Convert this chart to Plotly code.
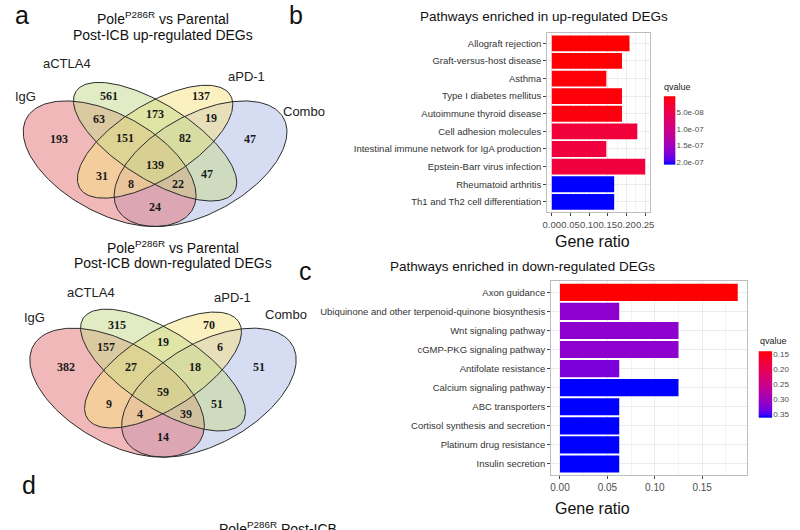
import numpy as np
import plotly.graph_objects as go

# ---------------- data ----------------
set_names = ["IgG", "aCTLA4", "aPD-1", "Combo"]
region_keys = ["IgG", "aCTLA4", "aPD-1", "Combo",
               "IgG&aCTLA4", "aCTLA4&aPD-1", "aPD-1&Combo", "IgG&aPD-1",
               "aCTLA4&Combo", "IgG&Combo",
               "IgG&aCTLA4&aPD-1", "aCTLA4&aPD-1&Combo", "IgG&aPD-1&Combo",
               "IgG&aCTLA4&Combo", "all"]
up_counts = [193, 561, 137, 47, 63, 173, 19, 31, 47, 24, 151, 82, 8, 22, 139]
down_counts = [382, 315, 70, 51, 157, 19, 6, 9, 51, 14, 27, 18, 4, 39, 59]

up_pathways = ["Allograft rejection", "Graft-versus-host disease", "Asthma",
               "Type I diabetes mellitus", "Autoimmune thyroid disease",
               "Cell adhesion molecules", "Intestinal immune network for IgA production",
               "Epstein-Barr virus infection", "Rheumatoid arthritis",
               "Th1 and Th2 cell differentiation"]
up_ratio = [0.208, 0.188, 0.146, 0.188, 0.188, 0.229, 0.146, 0.250, 0.167, 0.167]
up_q = [2.0e-9, 3.0e-9, 5.0e-9, 6.0e-9, 8.0e-9, 3.5e-8, 3.8e-8, 3.8e-8, 2.09e-7, 2.09e-7]
up_q_ticks = [5.0e-8, 1.0e-7, 1.5e-7, 2.0e-7]
up_q_ticklabels = ["5.0e-08", "1.0e-07", "1.5e-07", "2.0e-07"]
up_x_ticks = [0.00, 0.05, 0.10, 0.15, 0.20, 0.25]

down_pathways = ["Axon guidance", "Ubiquinone and other terpenoid-quinone biosynthesis",
                 "Wnt signaling pathway", "cGMP-PKG signaling pathway",
                 "Antifolate resistance", "Calcium signaling pathway",
                 "ABC transporters", "Cortisol synthesis and secretion",
                 "Platinum drug resistance", "Insulin secretion"]
down_ratio = [0.1875, 0.0625, 0.125, 0.125, 0.0625, 0.125, 0.0625, 0.0625, 0.0625, 0.0625]
down_q = [0.142, 0.318, 0.318, 0.318, 0.330, 0.363, 0.363, 0.363, 0.363, 0.363]
down_q_ticks = [0.15, 0.20, 0.25, 0.30, 0.35]
down_q_ticklabels = ["0.15", "0.20", "0.25", "0.30", "0.35"]
down_x_ticks = [0.00, 0.05, 0.10, 0.15]

# ---------------- helpers ----------------
W, H = 800, 530


def dom_x(a, b):
    return [a / W, b / W]


def dom_y(top, bottom):
    return [(H - bottom) / H, (H - top) / H]


def _lin(c):
    c = np.asarray(c, float) / 255.0
    return np.where(c <= 0.04045, c / 12.92, ((c + 0.055) / 1.055) ** 2.4)


def _srgb(c):
    c = np.clip(c, 0, 1)
    return np.where(c <= 0.0031308, 12.92 * c, 1.055 * c ** (1 / 2.4) - 0.055) * 255


M = np.array([[0.4124, 0.3576, 0.1805], [0.2126, 0.7152, 0.0722], [0.0193, 0.1192, 0.9505]])
Minv = np.linalg.inv(M)
WHITE = np.array([0.95047, 1.0, 1.08883])
D = 6 / 29


def to_lab(rgb):
    xyz = M @ _lin(rgb) / WHITE
    f = np.where(xyz > D ** 3, np.cbrt(xyz), xyz / (3 * D * D) + 4 / 29)
    return np.array([116 * f[1] - 16, 500 * (f[0] - f[1]), 200 * (f[1] - f[2])])


def from_lab(lab):
    fy = (lab[0] + 16) / 116
    f = np.array([fy + lab[1] / 500, fy, fy - lab[2] / 200])
    xyz = np.where(f > D, f ** 3, 3 * D * D * (f - 4 / 29)) * WHITE
    return _srgb(Minv @ xyz)


lab_lo, lab_hi = to_lab([255, 0, 0]), to_lab([0, 0, 255])
colorscale = []
for t in np.linspace(0, 1, 21):
    r, g, b = from_lab(lab_lo + (lab_hi - lab_lo) * t)
    colorscale.append([float(t), "rgb(%d,%d,%d)" % (round(r), round(g), round(b))])

SANS = "Liberation Sans, Arial, sans-serif"
SERIF = "Liberation Serif, Times New Roman, serif"

fig = go.Figure()

# ---------------- Venn diagrams (pixel overlay axis) ----------------
# ellipse geometry in VennDiagram unit space: cx, cy, a, b, rotation(deg)
ellipses = {
    "Combo": (0.65, 0.47, 0.35, 0.20, 45),
    "IgG": (0.35, 0.47, 0.35, 0.20, 135),
    "aPD-1": (0.50, 0.57, 0.33, 0.15, 45),
    "aCTLA4": (0.50, 0.57, 0.35, 0.15, 135),
}
draw_order = ["Combo", "IgG", "aPD-1", "aCTLA4"]
fills = {"IgG": "rgba(225,113,113,0.5)", "aCTLA4": "rgba(197,217,137,0.5)",
         "aPD-1": "rgba(247,225,129,0.5)", "Combo": "rgba(173,187,231,0.5)"}

venns = [
    dict(counts=up_counts, cx=152, sx=307, y0=267.3, sy=222,
         pos=[(55, 138), (105, 95), (198, 95), (248, 138), (95, 118), (152, 113),
              (209, 117), (98, 175), (205, 173), (152, 207), (122, 137), (182, 137),
              (128, 183), (175, 183), (152, 164)],
         labels=[(21, 95), (63, 62), (245, 75), (303, 110)],
         title=(160, 16, 33), sub="Post-ICB up-regulated DEGs"),
    dict(counts=down_counts, cx=160, sx=310, y0=500.8, sy=228,
         pos=[(62, 368), (113, 325), (207, 325), (257, 368), (102, 348), (160, 343),
              (218, 348), (105, 405), (215, 405), (160, 438), (128, 368), (192, 368),
              (137, 415), (183, 415), (160, 393)],
         labels=[(30, 318), (87, 293), (230, 298), (285, 315)],
         title=(170, 247, 263), sub="Post-ICB down-regulated DEGs"),
]

tt = np.linspace(0, 2 * np.pi, 241)
annotations = []
for v in venns:
    outlines = []
    for name in draw_order:
        cx, cy, a, b, rot = ellipses[name]
        r = np.deg2rad(rot)
        u = cx + a * np.cos(tt) * np.cos(r) - b * np.sin(tt) * np.sin(r)
        w = cy + a * np.cos(tt) * np.sin(r) + b * np.sin(tt) * np.cos(r)
        px = v["cx"] + (u - 0.5) * v["sx"]
        py = v["y0"] - w * v["sy"]
        fig.add_trace(go.Scatter(x=px, y=py, mode="lines", fill="toself",
                                 fillcolor=fills[name], line=dict(width=0),
                                 hoverinfo="skip", showlegend=False,
                                 xaxis="x", yaxis="y"))
        outlines.append((px, py))
    for px, py in outlines:
        fig.add_trace(go.Scatter(x=px, y=py, mode="lines",
                                 line=dict(color="#2b2b2b", width=1),
                                 hoverinfo="skip", showlegend=False,
                                 xaxis="x", yaxis="y"))
    for cnt, (x, y) in zip(v["counts"], v["pos"]):
        annotations.append(dict(x=x, y=y, text="<b>%d</b>" % cnt, showarrow=False,
                                font=dict(family=SERIF, size=12, color="#1a1a1a")))
    for nm, (x, y) in zip(set_names, v["labels"]):
        annotations.append(dict(x=x, y=y, text=nm, showarrow=False,
                                font=dict(family=SANS, size=13, color="#222")))
    tx, ty1, ty2 = v["title"]
    annotations.append(dict(x=tx, y=ty1, text="Pole<sup>P286R</sup> vs Parental",
                            showarrow=False, font=dict(family=SANS, size=14, color="#111")))
    annotations.append(dict(x=tx, y=ty2, text=v["sub"], showarrow=False,
                            font=dict(family=SANS, size=14, color="#111")))

# panel letters & misc text
for letter, (x, y) in zip(["a", "b", "c", "d"], [(17, 13), (295, 13), (304, 271), (24, 487)]):
    annotations.append(dict(x=x, y=y, text=letter, showarrow=False,
                            font=dict(family=SANS, size=25, color="#111")))
annotations.append(dict(x=546, y=15, text="Pathways enriched in up-regulated DEGs",
                        showarrow=False, font=dict(family=SANS, size=13.5, color="#111")))
annotations.append(dict(x=524, y=267, text="Pathways enriched in down-regulated DEGs",
                        showarrow=False, font=dict(family=SANS, size=13.5, color="#111")))
annotations.append(dict(x=595, y=241, text="Gene ratio", showarrow=False,
                        font=dict(family=SANS, size=16, color="#111")))
annotations.append(dict(x=595, y=510, text="Gene ratio", showarrow=False,
                        font=dict(family=SANS, size=16, color="#111")))
annotations.append(dict(x=665, y=86, xanchor="left", text="qvalue", showarrow=False,
                        font=dict(family=SANS, size=9, color="#222")))
annotations.append(dict(x=763, y=342, xanchor="left", text="qvalue", showarrow=False,
                        font=dict(family=SANS, size=9, color="#222")))
for a in annotations:
    a.setdefault("xref", "x")
    a.setdefault("yref", "y")
# partially visible caption at the bottom edge (paper coordinates)
annotations.append(dict(x=215 / W, y=(H - 519) / H, xref="paper", yref="paper",
                        xanchor="left", yanchor="top", text="Pole<sup>P286R</sup> Post-ICB",
                        showarrow=False, font=dict(family=SANS, size=14, color="#111")))

# ---------------- bar charts ----------------
fig.add_trace(go.Bar(x=up_ratio, y=up_pathways, orientation="h", width=0.9,
                     marker=dict(color=up_q, colorscale=colorscale, cmin=min(up_q),
                                 cmax=max(up_q), line=dict(width=0)),
                     xaxis="x2", yaxis="y2", showlegend=False))
fig.add_trace(go.Bar(x=down_ratio, y=down_pathways, orientation="h", width=0.9,
                     marker=dict(color=down_q, colorscale=colorscale, cmin=min(down_q),
                                 cmax=max(down_q), line=dict(width=0)),
                     xaxis="x3", yaxis="y3", showlegend=False))

# colour bars drawn as heatmaps
for q, ax, ay in [(up_q, "x4", "y4"), (down_q, "x5", "y5")]:
    qs = np.linspace(min(q), max(q), 80)
    fig.add_trace(go.Heatmap(z=qs.reshape(-1, 1), x=[0], y=qs, colorscale=colorscale,
                             zmin=min(q), zmax=max(q), showscale=False, hoverinfo="skip",
                             xaxis=ax, yaxis=ay))


def bar_xaxis(dom, anchor, rng, ticks, fsize):
    minor = [t + 0.025 for t in ticks]
    return dict(domain=dom, anchor=anchor, range=rng, tickvals=ticks,
                ticktext=["%.2f" % t for t in ticks], tickangle=0,
                tickfont=dict(family=SANS, size=fsize, color="#4d4d4d"),
                showgrid=True, gridcolor="#EBEBEB", gridwidth=1,
                minor=dict(tickvals=minor, showgrid=True, gridcolor="#F4F4F4", gridwidth=1),
                showline=True, mirror=True, linecolor="#BDBDBD", linewidth=1,
                ticks="outside", ticklen=3, tickcolor="#444", zeroline=False,
                fixedrange=True)


def bar_yaxis(dom, anchor, cats):
    return dict(domain=dom, anchor=anchor, type="category", categoryorder="array",
                categoryarray=cats, range=[len(cats) - 0.4, -0.6],
                tickfont=dict(family=SANS, size=9.5, color="#333"),
                showgrid=True, gridcolor="#EBEBEB", showline=True, mirror=True,
                linecolor="#BDBDBD", linewidth=1, ticks="outside", ticklen=3,
                tickcolor="#444", fixedrange=True)


def cbar_axes(xdom, ydom, anchor_x, anchor_y, q, tv, tt_):
    xa = dict(domain=xdom, anchor=anchor_y, visible=False, range=[-0.5, 0.5], fixedrange=True)
    ya = dict(domain=ydom, anchor=anchor_x, range=[max(q), min(q)], side="right",
              tickvals=tv, ticktext=tt_, tickfont=dict(family=SANS, size=8, color="#4d4d4d"),
              ticks="", showgrid=False, zeroline=False, showline=False, fixedrange=True)
    return xa, ya


xa4, ya4 = cbar_axes(dom_x(667, 679), dom_y(95, 164), "x4", "y4", up_q, up_q_ticks, up_q_ticklabels)
xa5, ya5 = cbar_axes(dom_x(763, 777), dom_y(352, 419), "x5", "y5", down_q, down_q_ticks, down_q_ticklabels)

fig.update_layout(
    width=W, height=H, margin=dict(l=0, r=0, t=0, b=0),
    paper_bgcolor="white", plot_bgcolor="rgba(0,0,0,0)",
    xaxis=dict(domain=[0, 1], range=[0, W], visible=False, fixedrange=True),
    yaxis=dict(domain=[0, 1], range=[H, 0], visible=False, fixedrange=True),
    xaxis2=bar_xaxis(dom_x(549, 653), "y2", [-0.0125, 0.2625], up_x_ticks, 9.5),
    yaxis2=bar_yaxis(dom_y(31, 212), "x2", up_pathways),
    xaxis3=bar_xaxis(dom_x(553, 751), "y3", [-0.009375, 0.196875], down_x_ticks, 10),
    yaxis3=bar_yaxis(dom_y(281, 477), "x3", down_pathways),
    xaxis4=xa4, yaxis4=ya4, xaxis5=xa5, yaxis5=ya5,
    annotations=annotations, bargap=0.1, showlegend=False,
)

fig.write_html("out.html")
